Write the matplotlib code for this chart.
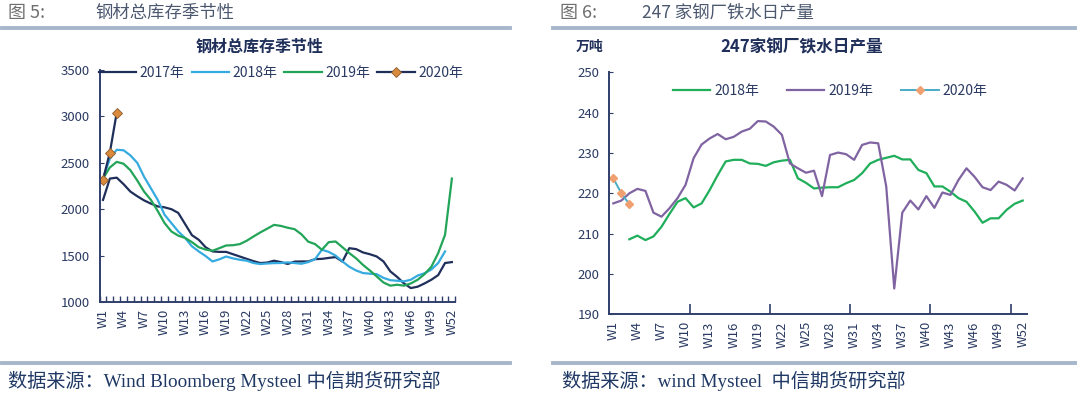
import numpy as np
import matplotlib.pyplot as plt
from matplotlib.lines import Line2D

plt.rcParams['font.family'] = ['Noto Sans CJK SC', 'DejaVu Sans']

weeks = [f"W{i}" for i in range(1, 53)]

# ---- 图5: 钢材总库存季节性 (万吨) ----
inv_2017 = [2100, 2330, 2340, 2270, 2190, 2140, 2095, 2060, 2030, 2020,
            2000, 1960, 1840, 1720, 1670, 1590, 1545, 1540, 1540, 1515,
            1490, 1465, 1440, 1420, 1425, 1445, 1430, 1410, 1435, 1437,
            1437, 1462, 1465, 1475, 1484, 1435, 1580, 1570, 1534, 1515,
            1491, 1437, 1330, 1270, 1200, 1150, 1165, 1200, 1240, 1290,
            1420, 1430]
inv_2018 = [2330, 2545, 2640, 2635, 2580, 2500, 2350, 2225, 2100, 1940,
            1850, 1760, 1690, 1600, 1545, 1495, 1437, 1460, 1490, 1470,
            1455, 1445, 1420, 1409, 1415, 1419, 1420, 1427, 1420, 1412,
            1430, 1462, 1563, 1540, 1500, 1437, 1380, 1340, 1312, 1305,
            1300, 1260, 1235, 1229, 1222, 1240, 1285, 1310, 1350, 1420,
            1545]
inv_2019 = [2330, 2450, 2510, 2490, 2420, 2310, 2190, 2100, 1980, 1850,
            1760, 1715, 1690, 1645, 1590, 1565, 1552, 1580, 1609, 1612,
            1624, 1660, 1706, 1750, 1790, 1831, 1820, 1800, 1785, 1730,
            1650, 1624, 1563, 1645, 1652, 1590, 1527, 1470, 1400, 1340,
            1276, 1210, 1176, 1186, 1176, 1200, 1240, 1300, 1380, 1527,
            1724, 2330]
inv_2020 = [2320, 2610, 3040]

# ---- 图6: 247家钢厂铁水日产量 (万吨) ----
iron_2018 = [np.nan, np.nan, 208.6, 209.5, 208.4, 209.3, 211.7, 214.9, 217.9, 218.8,
             216.5, 217.5, 220.8, 224.5, 227.9, 228.3, 228.3, 227.4, 227.3, 226.8,
             227.7, 228.1, 228.3, 223.7, 222.6, 221.2, 221.4, 221.5, 221.5, 222.5,
             223.3, 225.0, 227.4, 228.3, 228.8, 229.3, 228.4, 228.4, 225.8, 225.0,
             221.7, 221.7, 220.4, 218.8, 217.9, 215.5, 212.7, 213.8, 213.8, 215.9,
             217.4, 218.2]
iron_2019 = [217.5, 218.2, 220.0, 221.1, 220.6, 215.2, 214.2, 216.3, 218.8, 222.1,
             228.7, 232.1, 233.6, 234.7, 233.4, 234.0, 235.3, 236.0, 237.9, 237.8,
             236.5, 234.5, 227.4, 226.2, 225.1, 225.6, 219.3, 229.5, 230.1, 229.7,
             228.3, 232.0, 232.6, 232.4, 221.7, 196.4, 215.2, 218.2, 216.0, 219.3,
             216.4, 220.2, 219.6, 223.3, 226.2, 224.1, 221.5, 220.8, 222.9, 222.1,
             220.7, 223.7]
iron_2020 = [223.7, 220.0, 217.3]

NAVY = '#1f2f5a'
TXT = '#2a3a62'
RULE = '#a7b6ca'

fig = plt.figure(figsize=(10.8, 3.98), dpi=100)

# headers, rules and source lines
fig.text(8 / 1080, 1 - 13 / 398, "图 5:", fontsize=13, color='#6f6f6f', va='center')
fig.text(95 / 1080, 1 - 13 / 398, "钢材总库存季节性", fontsize=12.5, color='#4b5870', va='center')
fig.text(560 / 1080, 1 - 13 / 398, "图 6:", fontsize=13, color='#6f6f6f', va='center')
fig.text(642 / 1080, 1 - 13 / 398, "247 家钢厂铁水日产量", fontsize=12.5, color='#4b5870', va='center')
for x0, x1 in [(2, 510), (553, 1075)]:
    for yy in [28, 363]:
        fig.add_artist(Line2D([x0 / 1080, x1 / 1080], [1 - yy / 398] * 2,
                              color=RULE, lw=2.8, transform=fig.transFigure))
fig.text(8 / 1080, 1 - 381 / 398, "数据来源：Wind Bloomberg Mysteel 中信期货研究部",
         fontsize=13.8, color='#1f3864', va='center',
         family=['Liberation Serif', 'Noto Sans CJK SC'])
fig.text(562 / 1080, 1 - 381 / 398, "数据来源：wind Mysteel  中信期货研究部",
         fontsize=13.8, color='#1f3864', va='center',
         family=['Liberation Serif', 'Noto Sans CJK SC'])


def style_axes(ax):
    for s in ['top', 'right']:
        ax.spines[s].set_visible(False)
    for s in ['left', 'bottom']:
        ax.spines[s].set_color('#2f3e6b')
        ax.spines[s].set_linewidth(1.4)
    ax.tick_params(axis='y', direction='in', length=3, color='#2f3e6b',
                   labelsize=9.5, labelcolor=TXT, pad=7)
    ax.set_xticks(range(0, 52, 3))
    ax.set_xticklabels(weeks[::3], rotation=90)
    ax.tick_params(axis='x', which='major', length=0, labelsize=9.5,
                   labelcolor=TXT, pad=5)
    ax.set_xlim(-0.5, 51.5)


# left chart
ax1 = fig.add_axes([99.6 / 1080, 1 - 302 / 398, 355.7 / 1080, 232 / 398])
x = np.arange(52)
ax1.plot(x, inv_2017, color=NAVY, lw=1.6, label='2017年')
ax1.plot(x[:len(inv_2018)], inv_2018, color='#35abe0', lw=1.6, label='2018年')
ax1.plot(x, inv_2019, color='#22a558', lw=1.6, label='2019年')
ax1.plot(x[:3], inv_2020, color=NAVY, lw=1.6, marker='D', ms=5,
         mfc='#d98a3c', mec='#8a5a2a', mew=0.6, label='2020年')
ax1.set_ylim(1000, 3500)
ax1.set_yticks(range(1000, 3501, 500))
style_axes(ax1)
ax1.set_xticks(np.arange(-0.5, 52, 1), minor=True)
ax1.tick_params(axis='x', which='minor', direction='in', length=4,
                color='#2f3e6b', width=1)
ax1.legend(loc='upper center', bbox_to_anchor=(0.51, 1.07), ncol=4, frameon=False,
           fontsize=10, handlelength=2.7, columnspacing=0.5, handletextpad=0.25,
           labelcolor=TXT)
fig.text(260 / 1080, 1 - 47 / 398, "钢材总库存季节性", fontsize=11.5, fontweight='bold',
         color='#1f2f5a', ha='center', va='center')

# right chart
ax2 = fig.add_axes([609.3 / 1080, 1 - 314.3 / 398, 417.4 / 1080, 242 / 398])
ax2.plot(x, iron_2018, color='#1fae5a', lw=1.6, label='2018年')
ax2.plot(x, iron_2019, color='#8064a2', lw=1.6, label='2019年')
ax2.plot(x[:3], iron_2020, color='#4bacc6', lw=1.4, marker='D', ms=4,
         mfc='#f0a070', mec='#f0a070', label='2020年')
ax2.set_ylim(190, 250)
ax2.set_yticks(range(190, 251, 10))
style_axes(ax2)
ax2.set_xticks(np.arange(9.5, 52, 10), minor=True)
ax2.tick_params(axis='x', which='minor', direction='in', length=7,
                color='#2f3e6b', width=1.2)
ax2.legend(loc='upper center', bbox_to_anchor=(0.529, 1.005), ncol=3, frameon=False,
           fontsize=10, handlelength=2.7, columnspacing=2.0, handletextpad=0.3,
           labelcolor=TXT)
fig.text(802 / 1080, 1 - 47 / 398, "247家钢厂铁水日产量", fontsize=12, fontweight='bold',
         color='#1f2f5a', ha='center', va='center')
fig.text(590 / 1080, 1 - 47 / 398, "万吨", fontsize=10, fontweight='bold',
         color='#1f2f5a', ha='center', va='center')

fig.savefig('out.png', dpi=100)
